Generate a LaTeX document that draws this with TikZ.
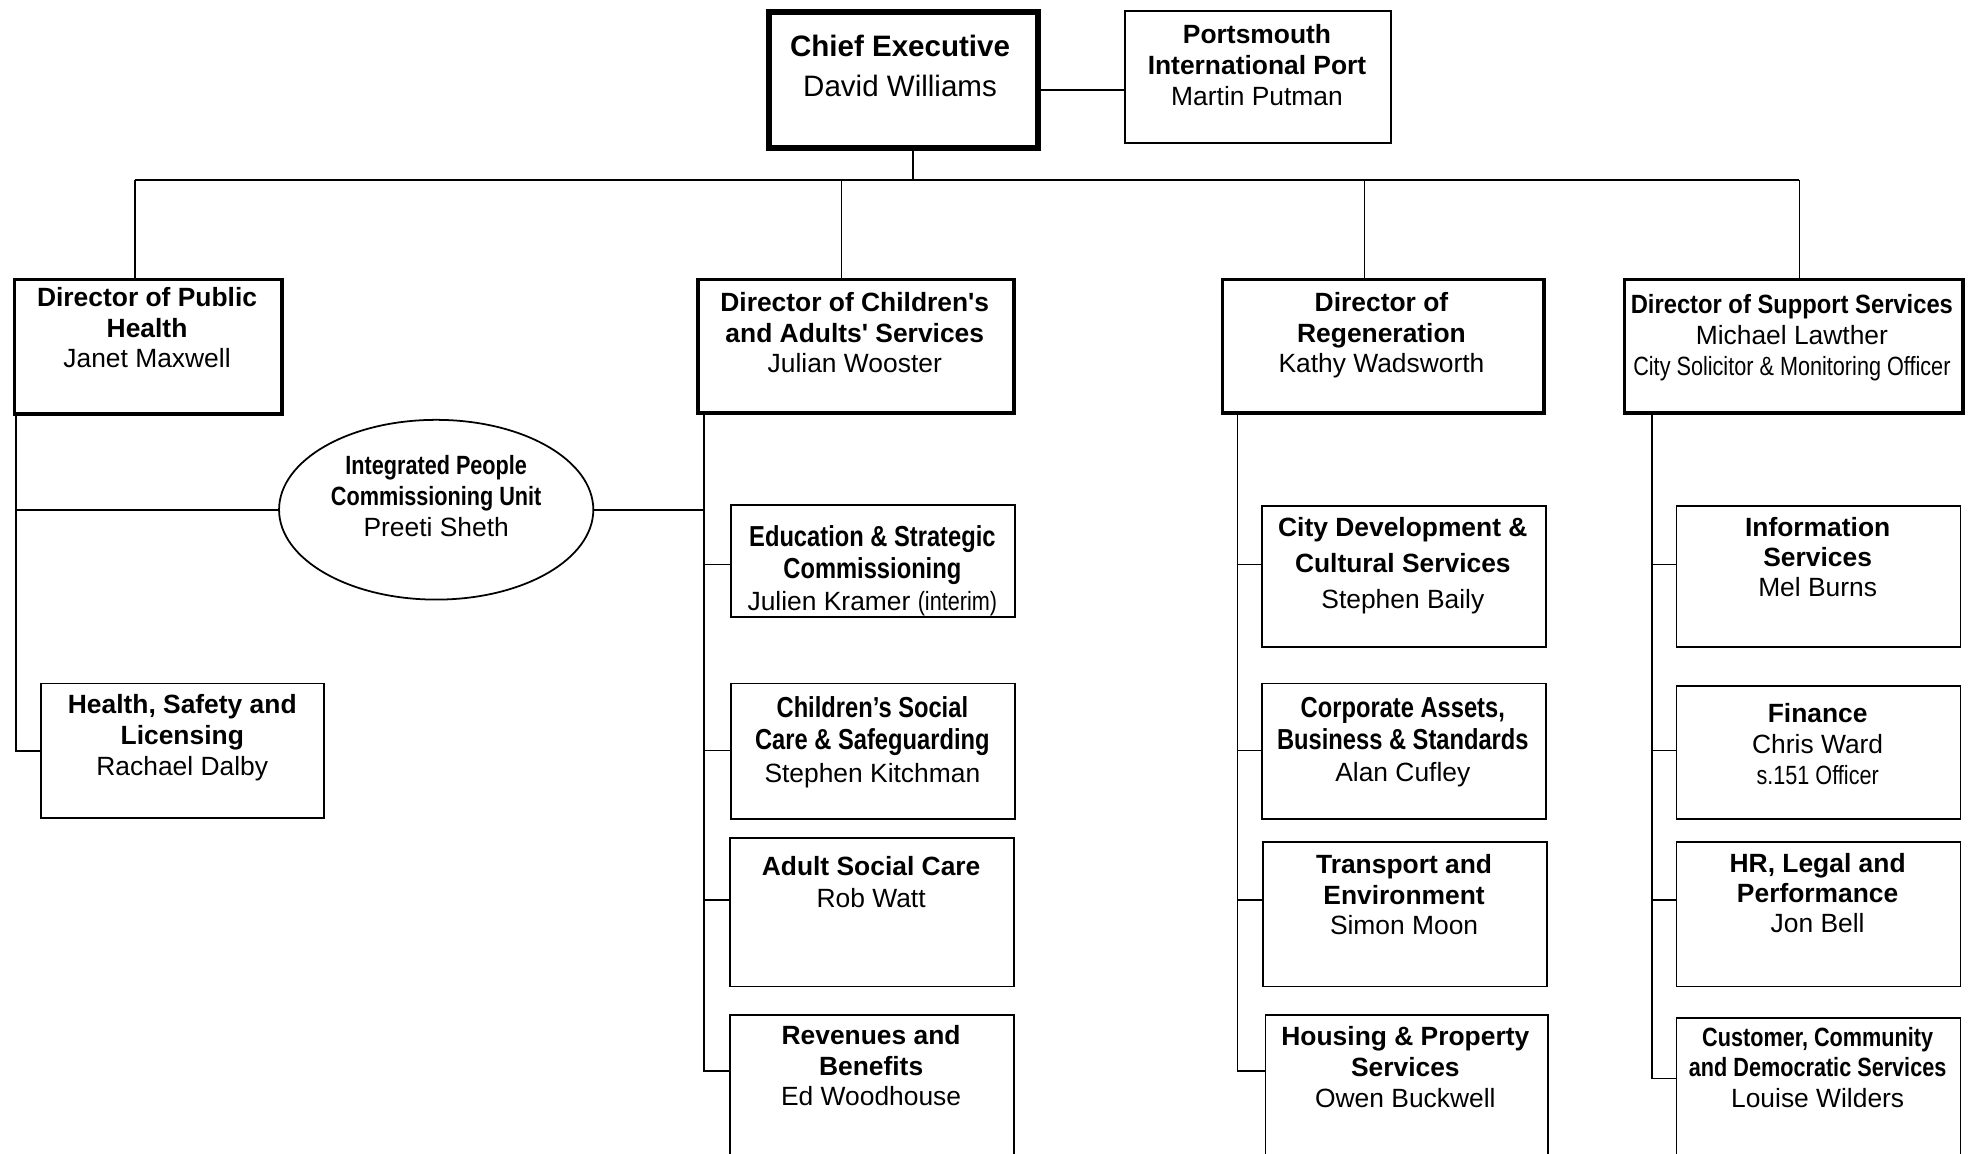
\documentclass[tikz,border=0pt]{standalone}
\usepackage{fontspec}
\setmainfont{Liberation Sans}
\newfontfamily\nar[FakeStretch=0.82]{Liberation Sans}
\newfontfamily\semi[FakeStretch=0.9]{Liberation Sans}
\usetikzlibrary{shapes.geometric}
\newcommand\tsr{\rule{0pt}{18pt}}
\newcommand\xb[1]{{\bfseries #1}}
\newcommand\xnb[1]{{\nar\bfseries #1}}
\newcommand\xnbb[1]{{\nar\bfseries\fontsize{23}{25.5}\selectfont #1}}
\newcommand\xnr[1]{{\nar #1}}
\begin{document}
\begin{tikzpicture}[x=1pt,y=1pt,
  box/.style={draw, inner sep=0pt, anchor=north west, line width=1.4pt},
  dirbox/.style={box, line width=2.9pt},
  ceobox/.style={box, line width=4.8pt},
  txt/.style={inner sep=0pt, align=center, anchor=north, font=\fontsize{21}{24.5}\selectfont},
  link/.style={line width=1.4pt},
  busline/.style={line width=1.7pt}]
\useasboundingbox (0,0) rectangle (1568,-918);
\clip (0,0) rectangle (1568,-918);
\fill[white] (0,0) rectangle (1568,-918);

% ---- boxes ----
\node[ceobox, minimum width=214pt, minimum height=108pt] (chief) at (609,-7) {};
\node[box, minimum width=212pt, minimum height=105pt] (port) at (894,-8) {};
\node[dirbox, minimum width=213pt, minimum height=107pt] (ph) at (10,-221) {};
\node[dirbox, minimum width=251pt, minimum height=106pt] (cad) at (554,-221) {};
\node[dirbox, minimum width=256pt, minimum height=106pt] (reg) at (971,-221) {};
\node[dirbox, minimum width=269pt, minimum height=106pt] (sup) at (1291,-221) {};
\node[draw, ellipse, line width=1.4pt, inner sep=0pt, minimum width=250pt, minimum height=143pt] (ipcu) at (347,-405.5) {};
\node[box, minimum width=225pt, minimum height=107pt] (hsl) at (32,-543) {};
\node[box, minimum width=226pt, minimum height=89pt] (edu) at (581,-401) {};
\node[box, minimum width=226pt, minimum height=108pt] (csc) at (581,-543) {};
\node[box, minimum width=226pt, minimum height=118pt] (asc) at (580,-666) {};
\node[box, minimum width=226pt, minimum height=125pt] (rev) at (580,-807) {};
\node[box, minimum width=226pt, minimum height=112pt] (cdv) at (1003,-402) {};
\node[box, minimum width=226pt, minimum height=108pt] (corp) at (1003,-543) {};
\node[box, minimum width=226pt, minimum height=115pt] (trn) at (1004,-669) {};
\node[box, minimum width=225pt, minimum height=125pt] (hou) at (1006,-807) {};
\node[box, minimum width=226pt, minimum height=112pt] (inf) at (1333,-402) {};
\node[box, minimum width=226pt, minimum height=106pt] (fin) at (1333,-545) {};
\node[box, minimum width=226pt, minimum height=115pt] (hr) at (1333,-669) {};
\node[box, minimum width=226pt, minimum height=125pt] (cus) at (1333,-809) {};

% ---- texts ----
\node[txt, font=\fontsize{23.5}{32}\selectfont] (chieft) at (716,-26.4) {\tsr\xb{Chief Executive}\\David Williams};
\node[txt] (portt) at (1000,-16.5) {\tsr\xb{Portsmouth}\\\xb{International Port}\\Martin Putman};
\node[txt] (pht) at (117,-225.5) {\tsr\xb{Director of Public}\\\xb{Health}\\Janet Maxwell};
\node[txt] (cadt) at (680,-229.5) {\tsr\xb{Director of Children\textquotesingle s}\\\xb{and Adults\textquotesingle\ Services}\\Julian Wooster};
\node[txt] (regt) at (1099,-229.5) {\tsr\xb{Director of}\\\xb{Regeneration}\\Kathy Wadsworth};
\node[txt] (supt) at (1425.5,-231.5) {\tsr{\semi\bfseries Director of Support Services}\\Michael Lawther\\\xnr{City Solicitor \& Monitoring Officer}};
\node[txt] (ipcut) at (347,-359.5) {\tsr\xnb{Integrated People}\\\xnb{Commissioning Unit}\\Preeti Sheth};
\node[txt] (hslt) at (145,-549.5) {\tsr\xb{Health, Safety and}\\\xb{Licensing}\\Rachael Dalby};
\node[txt, font=\fontsize{21}{25.5}\selectfont] (edut) at (694,-416.2) {\tsr\xnbb{Education \& Strategic}\\\xnbb{Commissioning}\\Julien Kramer \xnr{(interim)}};
\node[txt, font=\fontsize{21}{26}\selectfont] (csct) at (694,-552.2) {\tsr\xnbb{Children’s Social}\\\xnbb{Care \& Safeguarding}\\Stephen Kitchman};
\node[txt, font=\fontsize{21}{25}\selectfont] (asct) at (693,-678.5) {\tsr\xb{Adult Social Care}\\Rob Watt};
\node[txt] (revt) at (693,-812.5) {\tsr\xb{Revenues and}\\\xb{Benefits}\\Ed Woodhouse};
\node[txt, font=\fontsize{21}{28.5}\selectfont] (cdvt) at (1116,-408.5) {\tsr\xb{City Development \&}\\\xb{Cultural Services}\\Stephen Baily};
\node[txt, font=\fontsize{21}{25.5}\selectfont] (corpt) at (1116,-552.2) {\tsr\xnbb{Corporate Assets,}\\\xnbb{Business \& Standards}\\Alan Cufley};
\node[txt] (trnt) at (1117,-676.5) {\tsr\xb{Transport and}\\\xb{Environment}\\Simon Moon};
\node[txt] (hout) at (1118,-813.5) {\tsr\xb{Housing \& Property}\\\xb{Services}\\Owen Buckwell};
\node[txt, font=\fontsize{21}{24}\selectfont] (inft) at (1446,-408.5) {\tsr\xb{Information}\\\xb{Services}\\Mel Burns};
\node[txt] (fint) at (1446,-556.5) {\tsr\xb{Finance}\\Chris Ward\\\xnr{s.151 Officer}};
\node[txt, font=\fontsize{21}{24}\selectfont] (hrt) at (1446,-675.5) {\tsr\xb{HR, Legal and}\\\xb{Performance}\\Jon Bell};
\node[txt, font=\fontsize{21}{24}\selectfont] (cust) at (1446,-814.5) {\tsr\xnb{Customer, Community}\\\xnb{and Democratic Services}\\Louise Wilders};

% ---- connectors ----
\coordinate (busy) at (0,-143);
\coordinate (cp) at ([yshift=-8]chief.east);
\draw[link] (cp) -- (cp -| port.west);
\coordinate (ceo-d) at ([xshift=8]chief.south);
\coordinate (ph-u) at ([xshift=-10.5]ph.north);
\coordinate (cad-u) at ([xshift=-11.5]cad.north);
\coordinate (reg-u) at ([xshift=-15]reg.north);
\coordinate (sup-u) at ([xshift=4.5]sup.north);
\draw[link] (ceo-d) -- (ceo-d |- busy);
\draw[busline] (ph-u |- busy) -- (sup-u |- busy);
\draw[link] (ph-u) -- (ph-u |- busy);
\draw[link] (cad-u) -- (cad-u |- busy);
\draw[link] (reg-u) -- (reg-u |- busy);
\draw[link] (sup-u) -- (sup-u |- busy);

% public health branch
\coordinate (ph-l) at ([xshift=3]ph.south west);
\draw[link] (ph-l) |- (hsl.west);
\draw[link] (ipcu.west) -- (ipcu.west -| ph-l);

% children's branch
\coordinate (cad-l) at ([xshift=6]cad.south west);
\draw[link] (ipcu.east) -- (ipcu.east -| cad-l);
\coordinate (edu-s) at ([yshift=-48]edu.north west);
\coordinate (csc-s) at ([yshift=-54]csc.north west);
\coordinate (asc-s) at ([yshift=-50]asc.north west);
\coordinate (rev-s) at ([yshift=-45]rev.north west);
\draw[link] (cad-l) |- (rev-s);
\draw[link] (cad-l |- edu-s) -- (edu-s);
\draw[link] (cad-l |- csc-s) -- (csc-s);
\draw[link] (cad-l |- asc-s) -- (asc-s);

% regeneration branch
\coordinate (reg-l) at ([xshift=13.5]reg.south west);
\coordinate (cdv-s) at ([yshift=-47]cdv.north west);
\coordinate (corp-s) at ([yshift=-54]corp.north west);
\coordinate (trn-s) at ([yshift=-47]trn.north west);
\coordinate (hou-s) at ([yshift=-45]hou.north west);
\draw[link] (reg-l) |- (hou-s);
\draw[link] (reg-l |- cdv-s) -- (cdv-s);
\draw[link] (reg-l |- corp-s) -- (corp-s);
\draw[link] (reg-l |- trn-s) -- (trn-s);

% support branch
\coordinate (sup-l) at ([xshift=23.4]sup.south west);
\coordinate (inf-s) at ([yshift=-47]inf.north west);
\coordinate (fin-s) at ([yshift=-52]fin.north west);
\coordinate (hr-s) at ([yshift=-47]hr.north west);
\coordinate (cus-s) at ([yshift=-49]cus.north west);
\draw[link] (sup-l) |- (cus-s);
\draw[link] (sup-l |- inf-s) -- (inf-s);
\draw[link] (sup-l |- fin-s) -- (fin-s);
\draw[link] (sup-l |- hr-s) -- (hr-s);
\end{tikzpicture}
\end{document}
